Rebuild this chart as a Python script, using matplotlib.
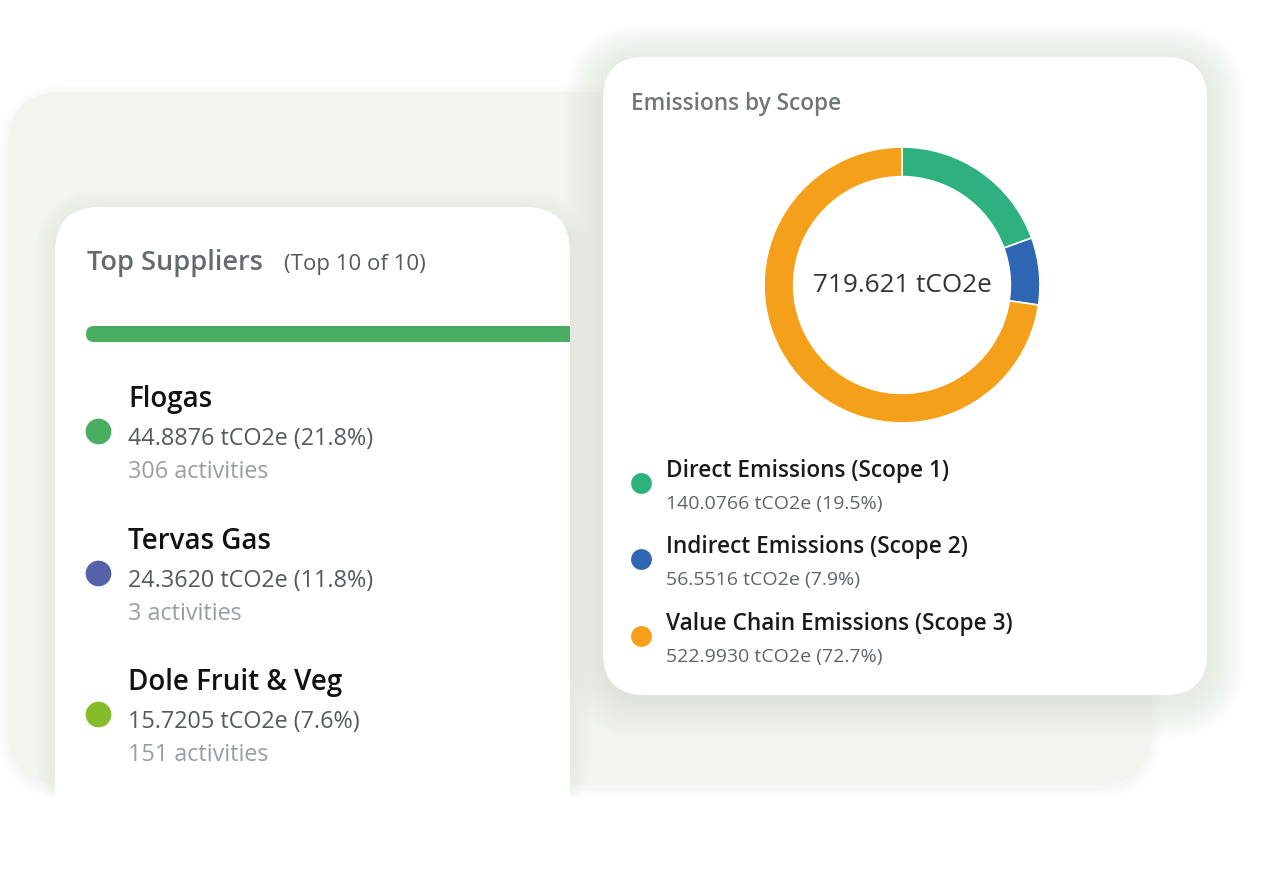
import matplotlib
matplotlib.use("Agg")
import matplotlib.pyplot as plt
from matplotlib.patches import FancyBboxPatch, Rectangle

# ---------------- data ----------------
suppliers = ["Flogas", "Tervas Gas", "Dole Fruit & Veg"]
supplier_values = [44.8876, 24.3620, 15.7205]
supplier_pcts = [21.8, 11.8, 7.6]
supplier_activities = [306, 3, 151]
supplier_colors = ["#4aae62", "#5561a8", "#86bc2a"]

scopes = ["Direct Emissions (Scope 1)", "Indirect Emissions (Scope 2)",
          "Value Chain Emissions (Scope 3)"]
scope_values = [140.0766, 56.5516, 522.9930]
scope_pcts = [19.5, 7.9, 72.7]
scope_colors = ["#2fb17f", "#2f66b4", "#f5a01a"]
total_label = "719.621 tCO2e"

FONT = "Open Sans"
W, H = 1280, 871

fig = plt.figure(figsize=(W / 100, H / 100), dpi=100)
fig.patch.set_facecolor("white")
ax = fig.add_axes([0, 0, 1, 1])
ax.set_xlim(0, W)
ax.set_ylim(H, 0)
ax.set_aspect("auto")
ax.axis("off")


def rrect(x0, y0, x1, y1, r, **kw):
    p = FancyBboxPatch((x0, y0), x1 - x0, y1 - y0,
                       boxstyle=f"round,pad=0,rounding_size={r}", **kw)
    ax.add_patch(p)
    return p


def shadow(x0, y0, x1, y1, r, dx=0, dy=8, n=12, spread=22, alpha=0.012, z=1):
    for i in range(n):
        s = spread * (i + 1) / n
        rrect(x0 - s + dx, y0 - s + dy, x1 + s + dx, y1 + s + dy, r + s,
              facecolor="#6f7a6a", edgecolor="none", alpha=alpha, zorder=z)


# background panel
shadow(8, 92, 1152, 785, 55, dy=3, n=8, spread=10, alpha=0.005)
rrect(8, 92, 1152, 785, 55, facecolor="#f3f4f0", edgecolor="none", zorder=1.5)

# ---------------- left card ----------------
shadow(55, 207, 570, 795, 45, dy=4, n=10, spread=20, alpha=0.008, z=1.7)
rrect(55, 207, 570, 840, 45, facecolor="white", edgecolor="none", zorder=2)
ax.add_patch(Rectangle((40, 797), 545, 70, facecolor="white", edgecolor="none", zorder=2.1))

ax.text(87, 270, "Top Suppliers", fontsize=19.5, color="#646a70", family=FONT,
        fontweight="semibold", va="baseline", ha="left", zorder=3)
ax.text(284, 270, "(Top 10 of 10)", fontsize=16, color="#55595e", family=FONT,
        va="baseline", ha="left", zorder=3)

bar = FancyBboxPatch((86, 326), 600, 16, boxstyle="round,pad=0,rounding_size=8",
                     facecolor=supplier_colors[0], edgecolor="none", zorder=3)
ax.add_patch(bar)
bar.set_clip_path(Rectangle((55, 300), 515, 60, transform=ax.transData))

row_base = [407, 549, 690]
for name, v, p, a, c, y in zip(suppliers, supplier_values, supplier_pcts,
                               supplier_activities, supplier_colors, row_base):
    ax.text(128, y, name, fontsize=20, color="#111111", family=FONT,
            fontweight="semibold", va="baseline", ha="left", zorder=3)
    ax.text(128, y + 38, f"{v:.4f} tCO2e ({p:.1f}%)", fontsize=16.8,
            color="#55595e", family=FONT, va="baseline", ha="left", zorder=3)
    ax.text(128, y + 71, f"{a} activities", fontsize=16.8, color="#9a9ea2",
            family=FONT, va="baseline", ha="left", zorder=3)
    ax.plot([98], [y + 24], "o", ms=18.5, color=c, mec="none", zorder=3)

# ---------------- right card ----------------
shadow(603, 57, 1207, 695, 42, dy=5, n=16, spread=38, alpha=0.009, z=3.5)
rrect(603, 57, 1207, 695, 42, facecolor="white", edgecolor="none", zorder=4)
ax.text(631, 110, "Emissions by Scope", fontsize=16.3, color="#70757a", family=FONT,
        fontweight="semibold", va="baseline", ha="left", zorder=5)

cx, cy, R = 902, 285, 138
dax = fig.add_axes([(cx - R) / W, (H - cy - R) / H, 2 * R / W, 2 * R / H])
dax.set_zorder(10)
dax.pie(scope_values, colors=scope_colors, startangle=90, counterclock=False,
        radius=1.0, wedgeprops=dict(width=0.215, edgecolor="white", linewidth=1.2))
dax.set_xlim(-1, 1)
dax.set_ylim(-1, 1)
dax.set_aspect("auto")
dax.axis("off")
dax.text(0, 0, total_label, fontsize=18.8, color="#333333", family=FONT,
         ha="center", va="center")

leg_base = [477, 553, 630]
for s, v, p, c, y in zip(scopes, scope_values, scope_pcts, scope_colors, leg_base):
    ax.plot([641], [y + 6], "o", ms=15, color=c, mec="none", zorder=5)
    ax.text(666, y, s, fontsize=16.3, color="#1a1a1a", family=FONT,
            fontweight="semibold", va="baseline", ha="left", zorder=5)
    ax.text(666, y + 32, f"{v:.4f} tCO2e ({p:.1f}%)", fontsize=14,
            color="#606468", family=FONT, va="baseline", ha="left", zorder=5)

fig.savefig("out.png", dpi=100, facecolor="white")
